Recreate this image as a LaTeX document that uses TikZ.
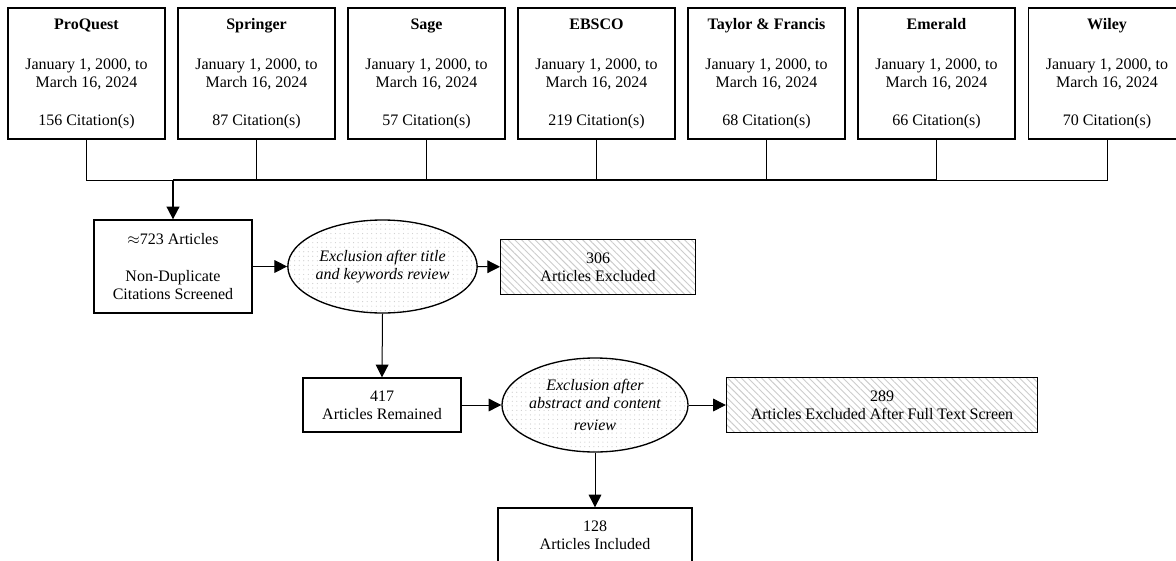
\documentclass[tikz,border=0pt]{standalone}
\usepackage{fontspec}
\setmainfont{Liberation Serif}
\usetikzlibrary{arrows.meta,patterns,patterns.meta,shapes.geometric}
\begin{document}
\begin{tikzpicture}[x=0.75pt,y=-0.75pt,
  every node/.style={font=\fontsize{12}{13.5}\selectfont},
  src/.style={draw, line width=1pt, minimum width=157*0.75pt, minimum height=131*0.75pt, align=center, inner sep=0pt},
  box/.style={draw, line width=1pt, align=center, inner sep=0pt},
  hatch/.style={box, pattern={Lines[angle=-45, distance=3.6pt, line width=0.7pt]}, pattern color=gray!40},
  oval/.style={draw, ellipse, line width=1pt, align=center, inner sep=0pt, pattern={Dots[distance=3.4pt, radius=0.45pt]}, pattern color=gray!40, font=\fontsize{12}{13.5}\selectfont\itshape},
  conn/.style={line width=0.75pt},
  arr/.style={line width=0.75pt, -{Triangle[length=9.5pt,width=9.5pt]}}]
\path[use as bounding box, clip] (0,0) rectangle (1176,560);

\node[src] (b1) at (86.5,73.5) {\textbf{ProQuest}\\[16.5pt]January 1, 2000, to\\March 16, 2024\\[15pt]156 Citation(s)};
\node[src] (b2) at (256.5,73.5) {\textbf{Springer}\\[16.5pt]January 1, 2000, to\\March 16, 2024\\[15pt]87 Citation(s)};
\node[src] (b3) at (426.5,73.5) {\textbf{Sage}\\[16.5pt]January 1, 2000, to\\March 16, 2024\\[15pt]57 Citation(s)};
\node[src] (b4) at (596.5,73.5) {\textbf{EBSCO}\\[16.5pt]January 1, 2000, to\\March 16, 2024\\[15pt]219 Citation(s)};
\node[src] (b5) at (766.5,73.5) {\textbf{Taylor \& Francis}\\[16.5pt]January 1, 2000, to\\March 16, 2024\\[15pt]68 Citation(s)};
\node[src] (b6) at (936.5,73.5) {\textbf{Emerald}\\[16.5pt]January 1, 2000, to\\March 16, 2024\\[15pt]66 Citation(s)};
\node[src] (b7) at (1107,73.5) {\textbf{Wiley}\\[16.5pt]January 1, 2000, to\\March 16, 2024\\[15pt]70 Citation(s)};

\coordinate (j) at (173,180);
\foreach \b in {b1,b2,b3,b4,b5,b6,b7} {\draw[conn] (\b.south) |- (j);}
\draw[line width=1.4pt] (j) -- (j -| b6.south);

\node[box, minimum width=158*0.75pt, minimum height=93*0.75pt] (a1) at (173,266.5) {$\approx$723 Articles\\[14pt]Non-Duplicate\\Citations Screened};
\node[oval, minimum width=181*0.75pt, minimum height=93*0.75pt] (e1) at (382.5,266.5) {Exclusion after title\\and keywords review};
\node[hatch, minimum width=195*0.75pt, minimum height=55*0.75pt] (x1) at (598,267) {306\\Articles Excluded};
\node[box, minimum width=158*0.75pt, minimum height=54*0.75pt] (r1) at (382,405) {417\\Articles Remained};
\node[oval, minimum width=182*0.75pt, minimum height=94*0.75pt] (e2) at (595,405) {Exclusion after\\abstract and content\\[3pt]review};
\node[hatch, minimum width=311*0.75pt, minimum height=55*0.75pt] (x2) at (882,405) {289\\Articles Excluded After Full Text Screen};
\node[box, minimum width=194*0.75pt, minimum height=54*0.75pt] (f) at (595,535) {128\\Articles Included};

\draw[arr, line width=1.4pt] (j) -- (a1.north);
\draw[arr] (a1) -- (e1);
\draw[arr] (e1) -- (x1);
\draw[arr] (e1.south) -- (r1.north);
\draw[arr] (r1) -- (e2);
\draw[arr] (e2) -- (x2);
\draw[arr] (e2.south) -- (f.north);
\end{tikzpicture}
\end{document}
